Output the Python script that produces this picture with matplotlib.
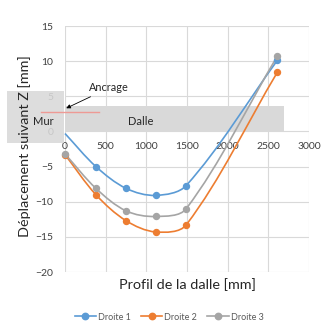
import numpy as np
import matplotlib
matplotlib.use("Agg")
import matplotlib.pyplot as plt
from matplotlib.path import Path
from matplotlib.patches import PathPatch, Rectangle
from matplotlib.lines import Line2D

plt.rcParams['font.family'] = ['Lato', 'DejaVu Sans']

profil = [0, 380, 750, 1115, 1490, 2610]
droite1 = [-0.3, -5.0, -8.1, -9.1, -7.7, 10.1]
droite2 = [-3.3, -9.0, -12.7, -14.3, -13.3, 8.4]
droite3 = [-3.2, -8.1, -11.3, -12.1, -11.0, 10.7]
noms = ['Droite 1', 'Droite 2', 'Droite 3']
couleurs = ['#5B9BD5', '#ED7D31', '#A5A5A5']


def smooth_path(x, y, sx=244 / 3000, sy=246 / 35):
    # courbe lissee (catmull-rom, tangentes ponderees par la longueur des cordes)
    p = np.column_stack([x, y]).astype(float)
    n = len(p)
    q = p * [sx, sy]
    d = np.hypot(*np.diff(q, axis=0).T)
    tang = []
    for i in range(n):
        a = p[max(i - 1, 0)]
        b = p[min(i + 1, n - 1)]
        da = d[i - 1] if i > 0 else 0
        db = d[i] if i < n - 1 else 0
        tang.append((b - a) / (da + db))
    verts = [p[0]]
    codes = [Path.MOVETO]
    for i in range(n - 1):
        c1 = p[i] + tang[i] * d[i] / 3
        c2 = p[i + 1] - tang[i + 1] * d[i] / 3
        verts += [c1, c2, p[i + 1]]
        codes += [Path.CURVE4] * 3
    return Path(verts, codes)


fig = plt.figure(figsize=(3.28, 3.26), dpi=100)
ax = fig.add_axes([65 / 328, 1 - 272 / 326, 244 / 328, 246 / 326])
ax.set_axisbelow(True)

handles = []
for k, (nom, c, y) in enumerate(zip(noms, couleurs, [droite1, droite2, droite3])):
    ax.add_patch(PathPatch(smooth_path(profil, y), facecolor='none',
                           edgecolor=c, lw=1.2, zorder=2, clip_on=False))
    # le premier point de Droite 1 est masque par la dalle
    mk = range(1, len(profil)) if k == 0 else None
    ax.plot(profil, y, 'o', color=c, ms=4.3, zorder=2.5, clip_on=False,
            markevery=mk)
    handles.append(Line2D([], [], color=c, lw=1.2, marker='o', ms=4.6))

ax.set_xlim(0, 3000)
ax.set_ylim(-20, 15)
ax.set_xticks(np.arange(0, 3001, 500))
ax.set_yticks(np.arange(-20, 16, 5))
ax.grid(True, color='#D9D9D9', lw=0.8)
for s in ax.spines.values():
    s.set_visible(False)
ax.spines['bottom'].set_position(('data', 0))
ax.tick_params(length=0, labelsize=7.5, labelcolor='#404040')
ax.tick_params(axis='x', pad=7.5)
ax.tick_params(axis='y', pad=8.5)

# zones Mur / Dalle
ax.add_patch(Rectangle((0, 0.05), 2693, 3.55, facecolor='#D9D9D9',
                       edgecolor='none', zorder=1))
ax.add_patch(Rectangle((-713, -1.64), 701, 7.41, facecolor='#D9D9D9',
                       edgecolor='none', alpha=0.88, zorder=3, clip_on=False))
ax.plot([-295, 418], [2.78, 2.78], color='#EE9A95', lw=1.0, zorder=3.5,
        clip_on=False)
ax.text(-265, 1.35, 'Mur', fontsize=8, ha='center', va='center',
        color='#262626', zorder=4)
ax.text(935, 1.35, 'Dalle', fontsize=8, ha='center', va='center',
        color='#262626', zorder=4)
ax.annotate('Ancrage', xy=(15, 3.3), xytext=(300, 6.2), fontsize=7.8,
            ha='left', va='center', color='#262626', zorder=4,
            arrowprops=dict(arrowstyle='-|>', color='black', lw=0.6,
                            mutation_scale=6, shrinkA=1, shrinkB=0))

fig.text(25 / 328, 1 - 146.5 / 326, 'Déplacement suivant Z [mm]',
         rotation=90, ha='center', va='center', fontsize=10.4, color='#262626')
fig.text(187 / 328, 1 - 285 / 326, 'Profil de la dalle [mm]',
         ha='center', va='center', fontsize=10.4, color='#262626')

fig.legend(handles, noms, loc='center', bbox_to_anchor=(169 / 328, 1 - 317 / 326),
           ncol=3, frameon=False, fontsize=6.5, handlelength=2.4,
           columnspacing=1.1, handletextpad=0.2, labelcolor='#595959')

fig.savefig('out.png', dpi=100)
